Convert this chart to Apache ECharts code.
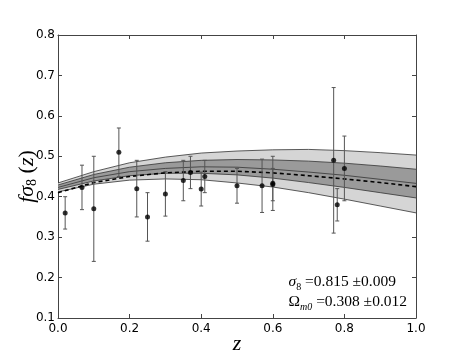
<!DOCTYPE html>
<html lang="en">
<head>
    <meta charset="UTF-8">
    <title>f sigma8</title>
    <script src="https://cdn.jsdelivr.net/npm/echarts@6.0.0/dist/echarts.min.js"></script>
    <style>
        html, body { margin: 0; padding: 0; background: #fff; }
        #main { width: 463px; height: 354px; }
    </style>
</head>
<body>
<div id="main"></div>
<script type="text/javascript">
    // model curves, read at z = 0, 0.1, ... 1.0
    var zGrid    = [0, 0.1, 0.2, 0.3, 0.4, 0.5, 0.6, 0.7, 0.8, 0.9, 1.0];
    var outerLo  = [0.412, 0.431, 0.441, 0.444, 0.442, 0.434, 0.424, 0.410, 0.394, 0.377, 0.360];
    var outerUp  = [0.434, 0.462, 0.484, 0.498, 0.508, 0.513, 0.516, 0.517, 0.514, 0.509, 0.503];
    var darkLo   = [0.418, 0.439, 0.452, 0.458, 0.458, 0.454, 0.446, 0.435, 0.423, 0.410, 0.397];
    var darkUp   = [0.429, 0.455, 0.473, 0.484, 0.490, 0.492, 0.491, 0.488, 0.483, 0.476, 0.468];
    var bestFit  = [0.423, 0.447, 0.462, 0.470, 0.474, 0.473, 0.468, 0.461, 0.453, 0.443, 0.433];
    var lcdm     = [0.410, 0.435, 0.450, 0.459, 0.463, 0.463, 0.459, 0.452, 0.444, 0.435, 0.425];

    // observations
    var zObs   = [0.02, 0.067, 0.10, 0.17, 0.22, 0.25, 0.30, 0.35, 0.37, 0.40, 0.41, 0.50, 0.57, 0.60, 0.60, 0.77, 0.78, 0.80];
    var fs8Obs = [0.36, 0.423, 0.37, 0.51, 0.42, 0.35, 0.407, 0.44, 0.46, 0.419, 0.45, 0.427, 0.427, 0.43, 0.433, 0.49, 0.38, 0.47];
    var errObs = [0.04, 0.055, 0.13, 0.06, 0.07, 0.06, 0.055, 0.05, 0.04, 0.042, 0.04, 0.043, 0.066, 0.04, 0.067, 0.18, 0.04, 0.08];

    var yTicks = [0.1, 0.2, 0.3, 0.4, 0.5, 0.6, 0.7, 0.8];
    var xTicks = [0.0, 0.2, 0.4, 0.6, 0.8, 1.0];

    function pairs(ys) {
        return zGrid.map(function (z, i) { return [z, ys[i]]; });
    }

    // filled band between two curves, drawn once as a polygon
    function bandSeries(lo, hi, color, z) {
        return {
            type: 'custom', z: z, silent: true,
            data: zGrid.map(function (v, i) { return [v, lo[i], hi[i]]; }),
            renderItem: function (params, api) {
                if (params.dataIndex !== 0) return null;
                var pts = [];
                for (var i = 0; i < zGrid.length; i++) pts.push(api.coord([zGrid[i], hi[i]]));
                for (var j = zGrid.length - 1; j >= 0; j--) pts.push(api.coord([zGrid[j], lo[j]]));
                return {type: 'polygon', shape: {points: pts}, style: {fill: color, stroke: null}};
            }
        };
    }

    function edge(ys, z) {
        return {
            type: 'line', symbol: 'none', silent: true, z: z,
            data: pairs(ys), lineStyle: {color: '#333', width: 0.8}
        };
    }

    var frameColor = '#444';
    var myChart = echarts.init(document.getElementById('main'), null, {renderer: 'canvas'});

    var tickStyle = {show: true, inside: true, length: 4, lineStyle: {color: frameColor, width: 1}};

    var serif = 'Liberation Serif';
    var option = {
        animation: false,
        backgroundColor: '#fff',
        grid: {left: 58, right: 47, top: 35, bottom: 36, outerBoundsMode: 'none', containLabel: false},
        xAxis: [{
            type: 'value',
            min: xTicks[0],
            max: xTicks[xTicks.length - 1],
            interval: 0.2,
            position: 'bottom',
            axisLine: {show: true, onZero: false, lineStyle: {color: frameColor, width: 1}},
            axisTick: tickStyle,
            splitLine: {show: false},
            axisLabel: {
                color: '#000', fontFamily: 'DejaVu Sans', fontSize: 12, margin: 5,
                formatter: function (v) { return v.toFixed(1); }
            },
            name: 'z',
            nameLocation: 'middle',
            nameGap: 15,
            nameMoveOverlap: false,
            nameTextStyle: {fontFamily: serif, fontStyle: 'italic', fontSize: 22, color: '#000'}
        }, {
            type: 'value',
            min: xTicks[0],
            max: xTicks[xTicks.length - 1],
            interval: 0.2,
            position: 'top',
            axisLine: {show: true, onZero: false, lineStyle: {color: frameColor, width: 1}},
            axisTick: tickStyle,
            axisLabel: {show: false},
            splitLine: {show: false}
        }],
        yAxis: [{
            type: 'value',
            min: yTicks[0],
            max: yTicks[yTicks.length - 1],
            interval: 0.1,
            position: 'left',
            axisLine: {show: true, onZero: false, lineStyle: {color: frameColor, width: 1}},
            axisTick: tickStyle,
            splitLine: {show: false},
            axisLabel: {
                color: '#000', fontFamily: 'DejaVu Sans', fontSize: 12, margin: 3,
                formatter: function (v) { return v.toFixed(1); }
            },
            name: '{i|fσ}{s|8}{n| (}{i|z}{n|)}',
            nameLocation: 'middle',
            nameRotate: 90,
            nameGap: 19,
            nameMoveOverlap: false,
            nameTextStyle: {
                color: '#000',
                rich: {
                    i: {fontFamily: serif, fontStyle: 'italic', fontSize: 22, lineHeight: 24, color: '#000'},
                    n: {fontFamily: serif, fontSize: 22, lineHeight: 24, color: '#000'},
                    s: {fontFamily: serif, fontSize: 14, lineHeight: 14, color: '#000', verticalAlign: 'bottom'}
                }
            }
        }, {
            type: 'value',
            min: yTicks[0],
            max: yTicks[yTicks.length - 1],
            interval: 0.1,
            position: 'right',
            axisLine: {show: true, onZero: false, lineStyle: {color: frameColor, width: 1}},
            axisTick: tickStyle,
            axisLabel: {show: false},
            splitLine: {show: false}
        }],
        series: [
            bandSeries(outerLo, outerUp, '#d5d5d5', 1),
            bandSeries(darkLo, darkUp, '#9a9a9a', 2),
            edge(outerLo, 3),
            edge(outerUp, 3),
            edge(darkLo, 3),
            edge(darkUp, 3),
            edge(bestFit, 3),
            {
                name: 'lcdm', type: 'line', symbol: 'none', silent: true,
                data: pairs(lcdm), lineStyle: {color: '#000', width: 1.6, type: [4, 3]}, z: 4
            },
            {
                name: 'errors', type: 'custom', z: 5,
                data: zObs.map(function (z, i) { return [z, fs8Obs[i] - errObs[i], fs8Obs[i] + errObs[i]]; }),
                renderItem: function (params, api) {
                    var lo = api.coord([api.value(0), api.value(1)]);
                    var hi = api.coord([api.value(0), api.value(2)]);
                    var cap = 2;
                    var st = {stroke: '#555', lineWidth: 1};
                    return {
                        type: 'group',
                        children: [
                            {type: 'line', shape: {x1: lo[0], y1: lo[1], x2: hi[0], y2: hi[1]}, style: st},
                            {type: 'line', shape: {x1: lo[0] - cap, y1: lo[1], x2: lo[0] + cap, y2: lo[1]}, style: st},
                            {type: 'line', shape: {x1: hi[0] - cap, y1: hi[1], x2: hi[0] + cap, y2: hi[1]}, style: st}
                        ]
                    };
                }
            },
            {
                name: 'obs', type: 'scatter', z: 6,
                symbol: 'circle', symbolSize: 5,
                itemStyle: {color: '#000'},
                data: zObs.map(function (z, i) { return [z, fs8Obs[i]]; })
            }
        ],
        graphic: [{
            type: 'text',
            z: 100,
            right: 56,
            bottom: 42,
            style: {
                text: '{i|σ}{s|8}{n| =0.815 ±0.009}\n{n|Ω}{si|m0}{n| =0.308 ±0.012}',
                rich: {
                    i: {fontFamily: serif, fontStyle: 'italic', fontSize: 15.5, lineHeight: 20, fill: '#000'},
                    n: {fontFamily: serif, fontSize: 15.5, lineHeight: 20, fill: '#000'},
                    s: {fontFamily: serif, fontSize: 10, lineHeight: 10, fill: '#000', verticalAlign: 'bottom'},
                    si: {fontFamily: serif, fontStyle: 'italic', fontSize: 10, lineHeight: 10, fill: '#000', verticalAlign: 'bottom'}
                }
            }
        }]
    };

    myChart.setOption(option);
</script>
</body>
</html>
